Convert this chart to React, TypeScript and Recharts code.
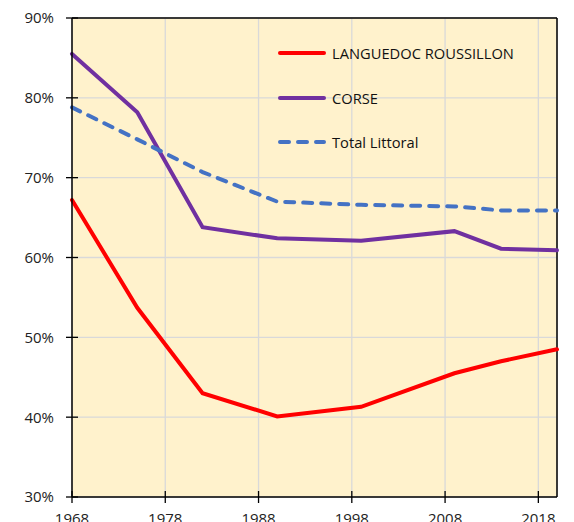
import { CartesianGrid, Legend, Line, LineChart, ReferenceLine, XAxis, YAxis } from 'recharts'

const years = [1968, 1975, 1982, 1990, 1999, 2009, 2014, 2020]
const languedoc = [67.2, 53.7, 43.0, 40.1, 41.3, 45.5, 47.0, 48.5]
const corse = [85.5, 78.2, 63.8, 62.4, 62.1, 63.3, 61.1, 60.9]
const littoral = [78.8, 74.8, 70.7, 67.0, 66.6, 66.4, 65.9, 65.9]

const xTicks = [1968, 1978, 1988, 1998, 2008, 2018]
const yTicks = [30, 40, 50, 60, 70, 80, 90]

const series = [
  { key: 'lr', name: 'LANGUEDOC ROUSSILLON', color: '#FF0000', dash: undefined },
  { key: 'corse', name: 'CORSE', color: '#7030A0', dash: undefined },
  { key: 'total', name: 'Total Littoral', color: '#4472C4', dash: '9 9' },
]

const data = years.map((year, i) => ({
  year,
  lr: languedoc[i],
  corse: corse[i],
  total: littoral[i],
}))

const FONT = "'Open Sans', sans-serif"

function YTick({ x, y, payload }: any) {
  return (
    <g>
      <line x1={x - 6} x2={x + 6} y1={y} y2={y} stroke='#000' strokeWidth={1.3} />
      <text x={x - 18} y={y} dy='0.36em' textAnchor='end' fontSize={15} fontFamily={FONT} fill='#222'>
        {payload.value}%
      </text>
    </g>
  )
}

function XTick({ x, y, payload }: any) {
  return (
    <g>
      <line x1={x} x2={x} y1={y - 6} y2={y + 6} stroke='#000' strokeWidth={1.3} />
      <text x={x} y={y + 27} textAnchor='middle' fontSize={15} fontFamily={FONT} fill='#222'>
        {payload.value}
      </text>
    </g>
  )
}

function LegendBox() {
  return (
    <div style={{ fontFamily: FONT, fontSize: 14.7, color: '#111' }}>
      {series.map((s) => (
        <div key={s.key} style={{ display: 'flex', alignItems: 'center', height: 44.5 }}>
          <svg width={56} height={10} style={{ display: 'block' }}>
            <line
              x1={4}
              x2={48}
              y1={5}
              y2={5}
              stroke={s.color}
              strokeWidth={4}
              strokeLinecap='round'
              strokeDasharray={s.dash}
            />
          </svg>
          <span>{s.name}</span>
        </div>
      ))}
    </div>
  )
}

export default function App() {
  return (
    <div style={{ position: 'absolute', left: 0, top: 0, background: '#fff' }}>
      <LineChart width={574} height={522} data={data} margin={{ top: 18, right: 17, bottom: 0, left: 0 }}>
        <CartesianGrid stroke='#D9D9D9' strokeWidth={1.3} fill='#FFF2CC' />
        <XAxis
          dataKey='year'
          type='number'
          domain={[1968, 2020]}
          ticks={xTicks}
          height={25}
          tickSize={0}
          tickMargin={0}
          tick={<XTick />}
          axisLine={{ stroke: '#000', strokeWidth: 1.5 }}
          tickLine={false}
          interval={0}
        />
        <YAxis
          type='number'
          domain={[30, 90]}
          ticks={yTicks}
          width={72}
          tickSize={0}
          tickMargin={0}
          tick={<YTick />}
          axisLine={{ stroke: '#000', strokeWidth: 1.5 }}
          tickLine={false}
          interval={0}
        />
        <ReferenceLine y={90} stroke='#000' strokeWidth={1.5} />
        <ReferenceLine x={2020} stroke='#000' strokeWidth={1.5} />
        <Legend
          layout='vertical'
          align='center'
          verticalAlign='middle'
          content={<LegendBox />}
          wrapperStyle={{ left: 276, top: 31, width: 270 }}
        />
        {series.map((s) => (
          <Line
            key={s.key}
            dataKey={s.key}
            name={s.name}
            stroke={s.color}
            strokeWidth={4}
            strokeDasharray={s.dash}
            strokeLinecap='round'
            dot={false}
            activeDot={false}
            isAnimationActive={false}
          />
        ))}
      </LineChart>
    </div>
  )
}
